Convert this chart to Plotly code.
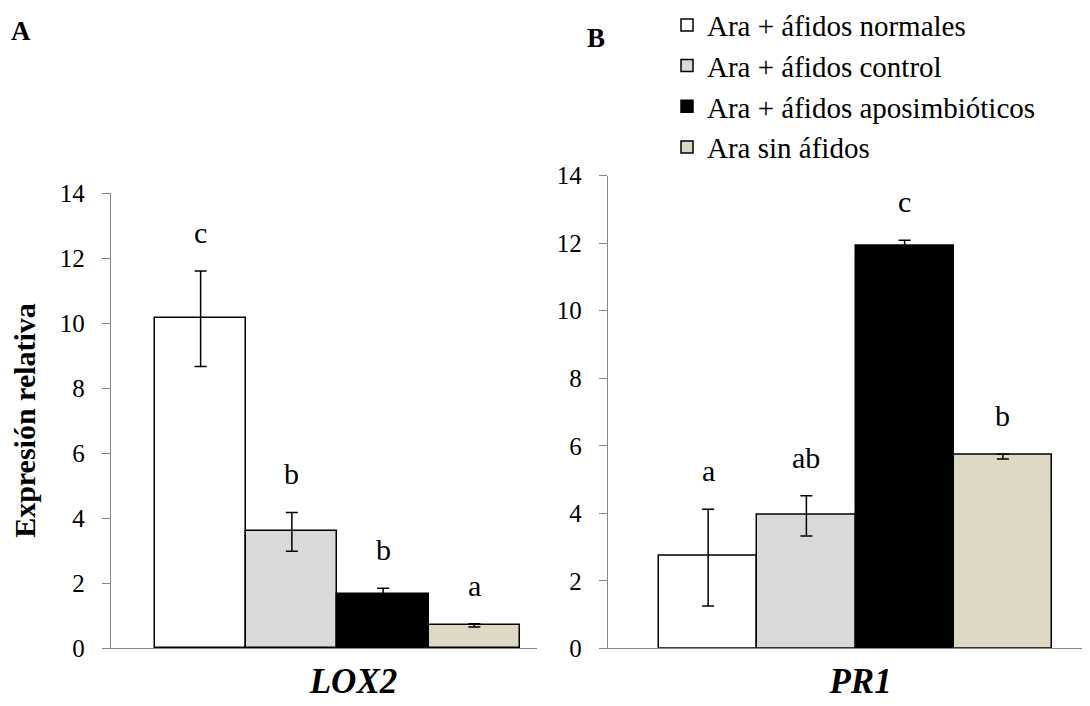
import plotly.graph_objects as go

# ---------------- data ----------------
genes = ["LOX2", "PR1"]
treatments = [
    "Ara + áfidos normales",
    "Ara + áfidos control",
    "Ara + áfidos aposimbióticos",
    "Ara sin áfidos",
]
lox2_mean = [10.15, 3.6, 1.65, 0.7]
lox2_err_plus = [1.45, 0.57, 0.19, 0.05]
lox2_err_minus = [1.49, 0.62, 0.19, 0.05]
lox2_letters = ["c", "b", "b", "a"]

pr1_mean = [2.73, 3.97, 11.92, 5.75]
pr1_err_plus = [1.39, 0.55, 0.17, 0.0]
pr1_err_minus = [1.48, 0.64, 0.17, 0.14]
pr1_letters = ["a", "ab", "c", "b"]

y_ticks = [0, 2, 4, 6, 8, 10, 12, 14]
colors = ["#FFFFFF", "#D9D9D9", "#000000", "#DDD9C4"]

FONT = "Liberation Serif"
AXIS_GRAY = "#868686"
W, H = 1090, 706

fig = go.Figure()

panels = [
    (genes[0], lox2_mean, lox2_err_plus, lox2_err_minus, lox2_letters, "x", "y", False),
    (genes[1], pr1_mean, pr1_err_plus, pr1_err_minus, pr1_letters, "x2", "y2", True),
]

annotations = []
n = len(treatments)
for gene, means, ep, em, letters, xa, ya, show in panels:
    for i, name in enumerate(treatments):
        fig.add_trace(go.Bar(
            x=[gene], y=[means[i]], name=name, legendgroup=name,
            showlegend=show, xaxis=xa, yaxis=ya,
            marker=dict(color=colors[i], line=dict(color="black", width=1.5)),
            error_y=dict(type="data", symmetric=False, array=[ep[i]],
                         arrayminus=[em[i]], color="black",
                         thickness=1.5, width=6),
        ))
        # significance letters above each error bar
        annotations.append(dict(
            x=-0.5 + (i + 0.5) / n, y=means[i] + ep[i], xref=xa, yref=ya,
            text=letters[i], showarrow=False, yanchor="bottom", yshift=20,
            font=dict(family=FONT, size=30, color="black"),
        ))

# panel letters
annotations.append(dict(x=13 / W, y=1 - 23 / H, xref="paper", yref="paper",
                        text="<b>A</b>", showarrow=False, xanchor="center",
                        yanchor="middle",
                        font=dict(family=FONT, size=27, color="black")))
annotations.append(dict(x=588 / W, y=1 - 30 / H, xref="paper", yref="paper",
                        text="<b>B</b>", showarrow=False, xanchor="center",
                        yanchor="middle",
                        font=dict(family=FONT, size=27, color="black")))

common_y = dict(
    range=[0, 14], tickmode="array", tickvals=y_ticks, ticks="outside",
    ticklen=8, tickcolor=AXIS_GRAY, tickwidth=1.3, showline=True,
    linecolor=AXIS_GRAY, linewidth=1.3, showgrid=False, zeroline=False,
    tickfont=dict(family=FONT, size=25, color="black"), ticklabelstandoff=12,
    automargin=False,
)
common_x = dict(
    type="category", showline=True, linecolor=AXIS_GRAY, linewidth=1.3,
    ticks="", showgrid=False, zeroline=False, tickmode="array",
    tickfont=dict(family=FONT, size=35, color="black"), ticklabelstandoff=2,
    automargin=False,
)

fig.update_layout(
    template="none",
    width=W, height=H,
    margin=dict(l=0, r=0, t=0, b=0, autoexpand=False),
    font=dict(family=FONT, color="black"),
    paper_bgcolor="white", plot_bgcolor="rgba(0,0,0,0)",
    barmode="group", bargap=0, bargroupgap=0,
    xaxis=dict(common_x, domain=[103 / W, 529 / W], range=[-0.6205, 0.5466],
               tickvals=[genes[0]], ticktext=["<b><i>LOX2</i></b>"],
               ticklabelshift=16, anchor="y"),
    yaxis=dict(common_y, domain=[(H - 640) / H, (H - 185) / H], anchor="x",
               title=dict(text="<b>Expresión relativa</b>", standoff=21,
                          font=dict(family=FONT, size=30, color="black"))),
    xaxis2=dict(common_x, domain=[600 / W, 1.0], range=[-0.6298, 0.6170],
                tickvals=[genes[1]], ticktext=["<b><i>PR1</i></b>"],
                ticklabelshift=5, anchor="y2"),
    yaxis2=dict(common_y, domain=[(H - 640.3) / H, (H - 167.7) / H],
                anchor="x2"),
    legend=dict(x=659 / W, y=1.012, xanchor="left", yanchor="top",
                bgcolor="rgba(0,0,0,0)", borderwidth=0, traceorder="normal",
                font=dict(family=FONT, size=29, color="black")),
    annotations=annotations,
    showlegend=True,
)

fig.write_html("out.html")
